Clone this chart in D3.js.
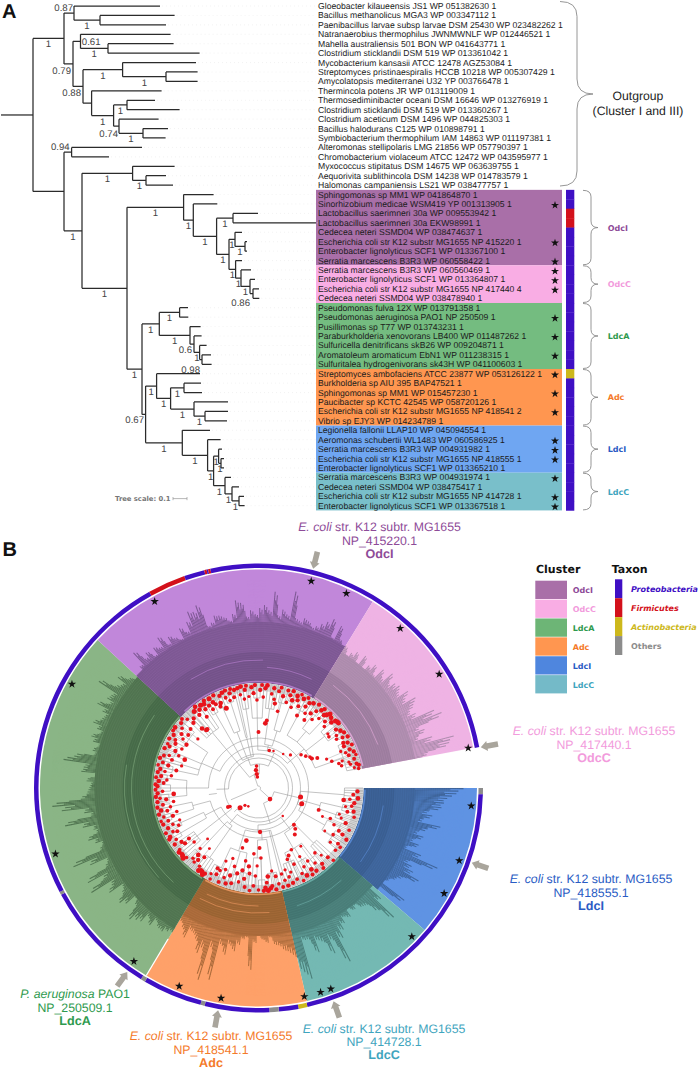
<!DOCTYPE html>
<html><head><meta charset="utf-8">
<script src="https://cdnjs.cloudflare.com/ajax/libs/d3/7.8.5/d3.min.js"></script>
<style>html,body{margin:0;padding:0;background:#fff}svg{display:block;text-rendering:geometricPrecision}</style>
</head><body><svg id="c" width="700" height="1069"></svg>
<script>
// ---------- PANEL A DATA ----------
const leafNames = [
"Gloeobacter kilaueensis JS1 WP 051382630 1","Bacillus methanolicus MGA3 WP 003347112 1","Paenibacillus larvae subsp larvae DSM 25430 WP 023482262 1","Natranaerobius thermophilus JWNMWNLF WP 012446521 1","Mahella australiensis 501 BON WP 041643771 1","Clostridium sticklandii DSM 519 WP 013361042 1","Mycobacterium kansasii ATCC 12478 AGZ53084 1","Streptomyces pristinaespiralis HCCB 10218 WP 005307429 1","Amycolatopsis mediterranei U32 YP 003766478 1","Thermincola potens JR WP 013119009 1","Thermosediminibacter oceani DSM 16646 WP 013276919 1","Clostridium sticklandii DSM 519 WP 013360267 1","Clostridium aceticum DSM 1496 WP 044825303 1","Bacillus halodurans C125 WP 010898791 1","Symbiobacterium thermophilum IAM 14863 WP 011197381 1","Alteromonas stellipolaris LMG 21856 WP 057790397 1","Chromobacterium violaceum ATCC 12472 WP 043595977 1","Myxococcus stipitatus DSM 14675 WP 063639755 1","Aequorivita sublithincola DSM 14238 WP 014783579 1","Halomonas campaniensis LS21 WP 038477757 1",
"Sphingomonas sp MM1 WP 041864870 1","Sinorhizobium medicae WSM419 YP 001313905 1","Lactobacillus saerimneri 30a WP 009553942 1","Lactobacillus saerimneri 30a EKW98991 1","Cedecea neteri SSMD04 WP 038474637 1","Escherichia coli str K12 substr MG1655 NP 415220 1","Enterobacter lignolyticus SCF1 WP 013367100 1","Serratia marcescens B3R3 WP 060558422 1",
"Serratia marcescens B3R3 WP 060560469 1","Enterobacter lignolyticus SCF1 WP 013364807 1","Escherichia coli str K12 substr MG1655 NP 417440 4","Cedecea neteri SSMD04 WP 038478940 1",
"Pseudomonas fulva 12X WP 013791358 1","Pseudomonas aeruginosa PAO1 NP 250509 1","Pusillimonas sp T77 WP 013743231 1","Paraburkholderia xenovorans LB400 WP 011487262 1","Sulfuricella denitrificans skB26 WP 009204871 1","Aromatoleum aromaticum EbN1 WP 011238315 1","Sulfuritalea hydrogenivorans sk43H WP 041100603 1",
"Streptomyces ambofaciens ATCC 23877 WP 053126122 1","Burkholderia sp AIU 395 BAP47521 1","Sphingomonas sp MM1 WP 015457230 1","Paucibacter sp KCTC 42545 WP 058720126 1","Escherichia coli str K12 substr MG1655 NP 418541 2","Vibrio sp EJY3 WP 014234789 1",
"Legionella fallonii LLAP10 WP 045094554 1","Aeromonas schubertii WL1483 WP 060586925 1","Serratia marcescens B3R3 WP 004931982 1","Escherichia coli str K12 substr MG1655 NP 418555 1","Enterobacter lignolyticus SCF1 WP 013365210 1",
"Serratia marcescens B3R3 WP 004931974 1","Cedecea neteri SSMD04 WP 038475417 1","Escherichia coli str K12 substr MG1655 NP 414728 1","Enterobacter lignolyticus SCF1 WP 013367518 1"];
const clusterNames = ["OdcI","OdcC","LdcA","Adc","LdcI","LdcC"];
const clusterSizes = [8,4,7,6,5,4];
const rowColors    = ["#A96FA8","#F9ADE4","#74BC80","#FF9650","#6FA6F2","#79BFCA"];
const swatchColors = ["#A96FA8","#F9ADE4","#6DB576","#FF9650","#4F86DE","#74BAC8"];
const nameColors   = ["#8E4B98","#F29BDC","#2E9A4E","#F47A2A","#2A5CC4","#3FA5BE"];
const starredLeaves = [21,25,27,28,29,30,33,35,37,39,41,43,46,47,48,50,52,53];
const firmicuteLeaves = [22,23];
const actinoLeaves = [39];
const taxonNames  = ["Proteobacteria","Firmicutes","Actinobacteria","Others"];
const taxonColors = ["#3F0FC4","#D3111B","#CDB81C","#8C8C8C"];
// node = [depth, support, ...children]; a bare number is a tip at that depth (scale 0.1 = 14 depth units)
const treeA = [33,null,
 [64,"1",
  [74,"0.87",160,[100,"1",174.6,166]],
  [73,"0.79",
   [80.5,"0.61",170.6,[108,"1",173.6,199.6]],
   [83,"0.88",
    [122.6,"1",196,[166,"1",197.6,197.6]],
    [91.6,null,161.6,[113.6,"1",[127,"1",155,179.6],[119,"0.74",158.6,[143,"1",168,165.6]]]]]]],
 [64,null,
  [71.6,"0.94",142,109],
  [82,"1",
   [132.6,"1",174.6,[146,"1",166,173]],
   [127,"1",
    [183.6,"1",213.6,[193.3,"1",217.3,
      [216.6,"1",
       [233,"1",258,316],
       [229,"1",
        [235,"1",242,[245,"1",247,247]],
        [235.6,"1",242,[241,"1",251,[250,"1",255,[253,"0.86",259,259.3]]]]]]]],
    [142,"1",
     [159.3,"1",
      [179.6,"1",188,188.3],
      [190,"1",200.6,[194,"0.6",201.6,[199.6,"1",206.6,[202,"0.98",211,211.6]]]]],
     [145.6,"0.67",
      [156.6,"1",200,[170.6,"1",[184,"1",201,202],[194,"1",228,[205,"1",228,227]]]],
      [182.3,"1",210,[207.6,"1",220.6,
        [213.6,"1",
         [218.6,"1",222,[221,"1",224,224]],
         [225,"1",231,[232,"1",239,[239,"1",244,244.6]]]]]]]]]]]];
const supportNudge = {"0.87":[-1,-2],"0.61":[20,4],"0.79":[-2,10],"0.88":[-2,10],"0.74":[-1,11],"0.94":[-2,-2],"0.86":[-3,12],"0.6":[-2,9],"0.98":[-2,13],"0.67":[-1.6,9]};

// ---------- PANEL B DATA (angles: degrees clockwise from east) ----------
const wedgeFill = {OdcI:"#C187DA",OdcC:"#EFB3E4",LdcA:"#8AB586",Adc:"#FEA169",LdcI:"#5F93E3",LdcC:"#74B9B3"};
const bodyFill  = {OdcI:"#7A5690",OdcC:"#A98AAA",LdcA:"#4E714E",Adc:"#A36637",LdcI:"#3D6296",LdcC:"#487B76"};
const bandFill  = {OdcI:"#6E5085",OdcC:"#957596",LdcA:"#416545",Adc:"#93602F",LdcI:"#385C8E",LdcC:"#3F706C"};
// outer reach of the leaf labels, read around each sector
const reachOdcI = [158,162,170,184,172,176,168,175,172,181,170,176,172,168,178,172,181,190,188,193,170,172,178,177,174,170,176,189,186,172,178,174,180,183,178,197,174,180,176,200,174,172,176,174,170,172,176,180,185,168,182,170,160];
const reachOdcC = [167,160,164,168,156,170,158,165,170,162,172,166,176,168,172,174,170,178,172,181,176,170,174,192,198,172,176,168,181,202,196,173];
const reachLdcI = [205,198,189,186,184,172,176,168,186,174,166,172,164,170,160,176,196,168,172,176,185,170,165,160,155,184,150];
const reachLdcC = [150,165,187,172,160,158,152,155,150,158,155,160,165,172,196,170,182,168,164,175,160,159,198,190];
const reachAdc  = [173,168,165,160,158,150,155,152,147,155,182,150,152,158,165,160,170,162,198,168,201,172,176,165,160,158,167,160,155];
const reachLdcA = [168,170,173,172,168,175,170,178,180,184,170,165,176,180,172,168,182,176,197,180,195,172,168,185,201,170,166,172,178,168,170,180,197,170,176,198,207,178,172,170,168,172,164,178,176,197,187,168,170,166,172,175,168,172,178,172,170,174,182,172,176,174,192,176,172,179,170,165];
const reachByCluster = {OdcI:reachOdcI,OdcC:reachOdcC,LdcA:reachLdcA,Adc:reachAdc,LdcI:reachLdcI,LdcC:reachLdcC};
// shares of a reach that the neighbouring labels take up
const labelShares = [1,.74,.9,.62];
// pale arcs inside the label band: [from, to, radius]
const paleArcs = [[226,300,106.5],[302,348,106.5],[122,222,106.5],[78,120,106.5],[41,77,106.5],[1,40,106.5],[238,272,128],[274,296,121],[132,215,127],[138,190,134],[85,118,125],[90,116,118],[48,72,124],[8,36,126],[306,340,127]];
const ringRuns = [[0,1.6,3],[1.6,77.4,0],[77.4,79.7,2],[79.7,84.8,0],[84.8,87.2,3],[87.2,103.9,0],[103.9,105,3],[105,120.4,0],[120.4,121.6,3],[121.6,151.6,0],[151.6,152.4,3],[152.4,240.9,0],[240.9,250.7,1],[250.7,256,0],[256,256.6,1],[256.6,257,0],[257,257.6,1],[257.6,349.5,0]];
const starAngles = [284.3,294.3,240.9,311.6,327.8,349.2,209.1,162,4.8,19.9,29.6,44.1,70.2,73.1,77.6,100.1,111.8,125.7];
const arrowAngles = [284,349.6,19.3,70.6,100.3,125.5];
// circular tree: node = [radius, ...children]; a bare number is a tip at that angle
const treeB = [2,
 [14,
  [72,224,226.5,228.5,231,234,236.5],
  [24,
   [32,[86,238,240,242],[60,[88,244,246,248],[90,250,252,254]],[52,256,257.5],[80,259,261,263]],
   [38,[70,265,[90,267,269,271],273],
    [44,[80,275,277,279,281],[60,[88,283,285,287],[92,289,291,293]]],
    [60,[88,295,298,300,302],[74,[92,304,306,309],[94,311,313,316]],[84,318,321,[94,323,326,329]],[90,332,335,338,341,344,347,349]]]]],
 [30,
  [42,
   [62,[88,190,192,194],[80,196,198],[90,200,203,206],[85,209,212,215,218,221]],
   [50,[72,[90,172,174,176],[88,178,180,182],[92,184,186,188]],[68,[92,160,162,164],[90,166,168,170]]],
   [60,[90,148,150,152],[85,154,156,158]]],
  [34,[78,138,140,142,144,146],[46,[85,122,124,126,128],[88,130,132,134,136]]]],
 [16,
  [42,[86,0,1.5,3,5,7,9],[46,[64,[86,11,13,15],[82,17,19,21]],[76,[90,23,25,27],[88,29,31,33,35,38]]]],
  [37,
   [52,[78,42,44,46,48],[70,[88,50,52,54],[84,56,58,60,62],[80,64,66,68,70,72]]],
   [44,74,76,[52,[86,78,80,82,84],[70,[92,86,88,90],[88,92,94,96]]],[66,[86,98,100,102],[90,104,106,108],[88,110,112,114,116,118,120]]]]]];
// support dots on the circular tree: [angle, radius, size]
const redDots = [
[2,99,2.4],[4,95,2.2],[6,100,2.6],[7,92,2],[9,97,2.4],[8,86,2.6],[11,95,2],[12,89,1.8],[14,98,2.4],[15,92,2.2],[17,100,2],[18,85,1.6],[20,64,2.2],[20,88,1.8],[22,94,2.4],[23,78,2],[24,70,1.6],[25,100,2],[26,84,2],[28,91,2.2],[29,96,2.4],[30.5,102,2.4],[32,88,2],[33,79,1.6],[35,97,2.2],[36,101,2],[37,90,1.8],[39,99,2],[12,43,2.8],[20,46,2.8],[49,37,1.4],[44,16,2.6],
[44,104,2],[45,98,2.2],[46,51,2.2],[47,92,1.6],[48,55,2.2],[49,86,2],[50,99,2.4],[51,103,2.2],[52,59,2.2],[53,94,2],[54,72,1.6],[55,101,2.4],[56,88,2],[57,97,2.6],[58,102,2.2],[59,80,1.8],[60,91,2],[61,100,2.6],[62,70,2],[63,96,2],[64,103,2],[65,84,2],[66,74,2.2],[67,99,2],[68,77,2],[69,90,1.8],[70,101,2.4],[71,94,2],[72,86,1.8],[73,102,2.4],[74,96,2],[75,89,2],[76,102,2.2],
[78,98,2],[79,90,2.2],[80,103,2.4],[81,84,1.8],[82,99,2.4],[83,101,2.6],[84,89,2.6],[84.5,103,2.8],[85,95,2.2],[86,100,2.6],[87,103,2.4],[88,44,2.4],[88,70,2],[89,60,2.2],[90,102,2],[91,78,1.8],[92,88,2],[93,98,2.2],[94,66,2],[95,103,2],[96,86,2.2],[97,79,2.4],[98,100,2.2],[99,92,2.4],[100,74,2],[101,84,2.4],[102,96,2],[103,54,2.6],[104,88,2.4],[105,62,2],[106,99,2.2],[107,82,2],[108,92,2.4],[109,101,2.4],[110,75,1.8],[111,96,2],[112,88,2],[113,102,2.2],[114,80,1.8],[115,91,2],[116,96,2.2],[117,90,2.2],[118,103,2],[119,98,1.8],
[122,101,2.4],[123,103,2.8],[124,101,2.8],[125,100,2.2],[126,102,2.8],[127,98,2],[128,88,2.2],[129,78,1.6],[130,94,2.4],[131,98,2],[132,90,2.6],[133,96,2],[134,84,1.8],[135,72,1.6],[136,100,2],[137,103,2.8],[138,102,2.8],[139,101,2.6],[140,84,2],[141,102,2.8],[142,100,2],[143,92,2.4],[144,86,2.2],[145,94,2.4],[147,34,2],[148,36,2.2],[133,27,2.8],[128,22,1.8],[119,21,1.4],[146,101,2.4],[148,97,2],[150,103,2.4],[151,101,2.6],[152,92,2.2],[153,96,2],[154,103,2.2],[155,88,2],[156,99,2.4],[157,93,2],[158,85,1.8],[159,102,2.4],
[160,96,2.2],[161,103,2],[162,90,2.4],[163,99,2],[164,85,2],[165,103,2.4],[166,94,2.2],[167,100,2.6],[168,90,2],[169,103,2.4],[170,97,2.2],[171,86,2],[172,102,2.4],[173,93,2.4],[174,99,2],[175,103,2.4],[176,85,2.6],[177,101,2.4],[178,96,2],[179,103,2.2],[181,101,2.4],[182,103,2.4],[183,95,2.2],[184,100,2.6],[185,92,2],[186,103,2.2],[187,98,2.4],[188,88,2],[189,102,2.4],[190,95,2],[191,100,2.4],[192,84,2.2],[193,103,2],[194,93,2.4],[195,99,2.2],[196,80,1.8],[197,103,2.4],[198,91,2.2],[199,100,2.2],[200,95,2],[201,79,2.6],[202,86,2],[203,102,2.4],[204,91,2.4],[205,98,2.2],[206,101,2],[207,86,2],[208,94,2.4],[209,102,2.4],[210,96,2.2],[211,84,2.4],[212,100,2.4],[213,90,2],[214,103,2.2],[215,94,2.4],[216,103,2.6],[217,88,2.2],[218,97,2],[219,78,1.8],[220,101,2.4],[221,90,2.2],[222,103,2.2],
[224,99,2],[225,92,2.4],[226.5,82,2.6],[227,95,2.4],[228,78,2.6],[229,78,2.4],[230,100,2.8],[231,94,2.4],[232,103,2.6],[233,98,2.6],[234,88,2.2],[235,101,2.8],[236,95,2.4],[237,100,2.6],[238,103,2.4],[239,96,2.4],[240,91,2.2],[241,102,2.8],[242,97,2.6],[243,94,2.2],[244,103,2.4],[245,90,2.2],[246,93,2.6],[247,100,2.4],[248,86,2.8],[249,102,2.6],[250,96,2.2],[251,103,2.4],[252,92,2],[253,99,2.4],[254,103,2.2],[255,94,2.2],[256,101,2.4],[258,102,2.4],[259,95,2],[260,103,2.6],[261,90,2],[262,99,2.4],[263,103,2.2],[264,92,1.8],[262,18,2.4],[263,14,2.4],[264,11,2],[265,22,2],
[266,101,2.4],[267,95,2.4],[268,103,2.4],[269,88,2],[270,56,2.2],[271,98,2.4],[272,103,2.2],[273,91,2],[274,100,2.4],[275,103,2.6],[276,65,2.6],[277,68,2.2],[278,95,2],[279,101,2.4],[280,90,2],[281,86,2.4],[282,99,2.2],[283,103,2.2],[284,79,2],[285,95,2.4],[286,39,2],[287,102,2.2],[288,90,2],[289,98,2.4],[290,103,2.4],[291,94,2.6],[292,87,2],[293,100,2.6],[294,96,2.4],[295,103,2],[296,91,2.2],[297,100,2.6],[298,82,2.2],[299,103,2.2],[300,94,2.4],[301,99,2.4],[302,88,2],[303,101,2.6],[304,82,2.2],[305,91,2.4],[306,103,2.4],[307,96,2.2],[308,87,2],[309,100,2.6],[310,103,2.4],[311,92,2],[312,98,2.6],[313,100,2.8],[314,103,2.8],[315,94,2.2],[316,101,2.6],[317,90,2],[318,98,2.6],[319,102,2.8],[320,103,2.6],[321,103,2.6],[322,88,1.8],[323,97,2.4],[324,87,2],[325,100,2.6],[326,94,2],[327,102,2.4],[328,92,2],[329,98,2.2],[330,103,2.4],[331,61,2],[332,96,2.4],[333,100,2.4],[334,95,2.4],[335,103,2.2],[336,90,1.8],[337,99,2.4],[338,94,2],[339,102,2.4],[340,96,2.2],[341,103,2],[342,88,1.8],[343,100,2.2],[344,94,1.8],[345,86,2],[345.5,95,2],[346,101,2.2],[347,103,2.4],[348,98,1.8],[349,102,2],
[314,46,1.8],[306,42,1.4],[322,54,2],[326,57,2],[329,60,2],[333,66,2.2],[337,74,1.8],[340,78,2],[343,84,2],[331,61,2.2],[292,40,1.4]];
// callouts
const calloutSpecies = ["E. coli","E. coli","E. coli","E. coli","P. aeruginosa","E. coli"];
const calloutStrains = [" str. K12 subtr. MG1655"," str. K12 subtr. MG1655"," str. K12 subtr. MG1655"," str. K12 subtr. MG1655"," PAO1"," str. K12 subtr. MG1655"];
const calloutAccessions = ["NP_415220.1","NP_417440.1","NP_418555.1","NP_414728.1","NP_250509.1","NP_418541.1"];
const calloutClusters = ["OdcI","OdcC","LdcI","LdcC","LdcA","Adc"];

// ---------- DRAW ----------
const svg = d3.select("#c");
const SANS = "'Liberation Sans',Arial,sans-serif", DJ = "'DejaVu Sans',sans-serif";
const gA = svg.append("g"), gB = svg.append("g");

// Panel A scales
const rowY = d3.scalePoint().domain(d3.range(leafNames.length)).range([6,505.7]);
const rowH = rowY.step();
const depthX = d3.scaleLinear().domain([0,330]).range([0,330]);
// bands
let start = 20; const spans = clusterSizes.map(n=>{const s=[start,start+n-1];start+=n;return s;});
gA.selectAll("rect.band").data(clusterNames).join("rect")
  .attr("x",316).attr("width",246)
  .attr("y",(d,i)=>rowY(spans[i][0])-rowH/2).attr("height",(d,i)=>rowY(spans[i][1])-rowY(spans[i][0])+rowH)
  .attr("fill",(d,i)=>rowColors[i]);
// taxon strip
const leafTaxon = i => firmicuteLeaves.includes(i)?1:actinoLeaves.includes(i)?2:0;
gA.selectAll("rect.tax").data(d3.range(20,leafNames.length)).join("rect")
  .attr("x",566).attr("width",8.3).attr("y",i=>rowY(i)-rowH/2).attr("height",rowH+.3)
  .attr("fill",i=>taxonColors[leafTaxon(i)]);
// tree
let leafIdx = 0; const treeG = gA.append("g").attr("fill","none").attr("stroke","#2b2b2b").attr("stroke-width",1.25);
const supG = gA.append("g").attr("font-family",SANS).attr("font-size",9.6).attr("fill","#444");
function layoutA(n){
  if(typeof n==="number"){const i=leafIdx++;return {x:depthX(n),y:rowY(i),leaf:i};}
  const kids=n.slice(2).map(layoutA);
  return {x:depthX(n[0]),s:n[1],kids,y:(kids[0].y+kids[kids.length-1].y)/2};
}
const rootA = layoutA(treeA);
function drawA(n){
  if(!n.kids){
    gA.append("line").attr("x1",n.x+2).attr("x2",316).attr("y1",n.y).attr("y2",n.y).attr("stroke","#e6e6e6").attr("stroke-width",.5).attr("stroke-dasharray","1 3");
    return;
  }
  const p=d3.path();p.moveTo(n.x,n.kids[0].y);p.lineTo(n.x,n.kids[n.kids.length-1].y);
  n.kids.forEach(k=>{p.moveTo(n.x,k.y);p.lineTo(k.x,k.y);
    if(k.s){
      if(k.s==="1") supG.append("text").attr("x",(n.x+k.x)/2).attr("y",k.y+9).attr("text-anchor","middle").text("1");
      else{const o=supportNudge[k.s];supG.append("text").attr("x",k.x+o[0]).attr("y",k.y+o[1]).attr("text-anchor","end").text(k.s);}
    }
    drawA(k);});
  treeG.append("path").attr("d",p.toString());
}
drawA(rootA);
treeG.append("line").attr("x1",1).attr("x2",rootA.x).attr("y1",rootA.y).attr("y2",rootA.y);
// leaf labels
gA.append("g").attr("font-family",SANS).attr("font-size",8.65).attr("fill","#1c1c1c")
 .selectAll("text").data(leafNames).join("text").attr("x",318).attr("y",(d,i)=>rowY(i)+3).text(d=>d);
// stars A
const star = d3.symbol().type(d3.symbolStar);
gA.selectAll("path.st").data(starredLeaves).join("path").attr("d",star.size(20)())
  .attr("transform",i=>`translate(555,${rowY(i)+1.2})`).attr("fill","#111");
// braces
function brace(x0,x1,x2,y0,y1,ym,r){const p=d3.path();p.moveTo(x0,y0);p.quadraticCurveTo(x1,y0,x1,y0+r);p.lineTo(x1,ym-r);p.quadraticCurveTo(x1,ym,x2,ym);p.quadraticCurveTo(x1,ym,x1,ym+r);p.lineTo(x1,y1-r);p.quadraticCurveTo(x1,y1,x0,y1);return p.toString();}
const braceG=gA.append("g").attr("fill","none").attr("stroke","#8a8a8a").attr("stroke-width",.9);
braceG.append("path").attr("d",brace(560,577,593,1.5,186,94,15));
clusterNames.forEach((c,i)=>{
  const y0=rowY(spans[i][0])-rowH/2+.5,y1=rowY(spans[i][1])+rowH/2-.5,ym=(y0+y1)/2;
  braceG.append("path").attr("d",brace(583,591,598,y0,y1,ym,6.5));
  gA.append("text").attr("x",607.7).attr("y",ym+3).attr("font-family",DJ).attr("font-weight","bold").attr("font-size",8).attr("fill",nameColors[i]).text(c);
});
gA.append("text").attr("x",638).attr("y",100).attr("text-anchor","middle").attr("font-family",SANS).attr("font-size",12.2).attr("fill","#222").text("Outgroup");
gA.append("text").attr("x",638).attr("y",115).attr("text-anchor","middle").attr("font-family",SANS).attr("font-size",12.2).attr("fill","#222").text("(Cluster I and III)");
gA.append("text").attr("x",2).attr("y",17.5).attr("font-family",SANS).attr("font-weight","bold").attr("font-size",20).attr("fill","#111").text("A");
// tree scale
gA.append("text").attr("x",115).attr("y",500.5).attr("font-family",DJ).attr("font-weight","bold").attr("font-size",6.8).attr("fill","#777").text("Tree scale: 0.1");
const sb=d3.path();const sbx=173;sb.moveTo(sbx,498.6);sb.lineTo(sbx+depthX(14),498.6);sb.moveTo(sbx,497);sb.lineTo(sbx,500.2);sb.moveTo(sbx+depthX(14),497);sb.lineTo(sbx+depthX(14),500.2);
gA.append("path").attr("d",sb.toString()).attr("stroke","#999").attr("stroke-width",.7).attr("fill","none");

// Panel B
const cx=258.5, cy=788, RIM=105, WEDGE=218.5, RING0=220, RING1=224.5;
const ang=d3.scaleLinear().domain([0,360]).range([0,2*Math.PI]);
const arc=d3.arc();
const c0=gB.append("g").attr("transform",`translate(${cx},${cy})`);
const sector=(a0,a1,r0,r1)=>arc({startAngle:ang(a0+90),endAngle:ang(a1+90),innerRadius:r0,outerRadius:r1});
const wedges={LdcI:[0,40.5],LdcC:[40.5,77.2],Adc:[77.2,120.9],LdcA:[120.9,222.6],OdcI:[222.6,301.5],OdcC:[301.5,349.4]};
Object.entries(wedges).forEach(([c,[a0,a1]])=>{
  c0.append("path").attr("d",sector(a0,a1,RIM,WEDGE)).attr("fill",wedgeFill[c]);
  const reach=reachByCluster[c], step=(a1-a0)/reach.length, base=d3.quantile(reach.slice().sort(d3.ascending),.12);
  c0.append("path").attr("d",sector(a0,a1,RIM,base-4)).attr("fill",bodyFill[c]);
  // each reach reading gives a small bundle of thin label strokes
  const fine=[];reach.forEach((d,i)=>labelShares.forEach((k,j)=>fine.push({t:a0+(i+j/labelShares.length)*step,e:base-6+(d-base+6)*k})));
  c0.selectAll(null).data(fine).join("path")
    .attr("d",d=>sector(d.t,d.t+step/labelShares.length*.85,base-6,d.e)).attr("fill",bodyFill[c]);
  c0.append("path").attr("d",sector(a0,a1,RIM,136)).attr("fill",bandFill[c]).attr("opacity",.6);
  // grain of the tiny labels: rings and spokes in the sector's own colour
  const grain=d3.path();
  d3.range(110,208,2.2).forEach(r=>{grain.moveTo(r*Math.cos(ang(a0)),r*Math.sin(ang(a0)));grain.arc(0,0,r,ang(a0),ang(a1));});
  c0.append("path").attr("d",grain.toString()).attr("fill","none").attr("stroke",wedgeFill[c]).attr("stroke-width",.4).attr("opacity",.22);
  const sp=d3.path();
  d3.range(a0,a1,.42).forEach(t=>{sp.moveTo(136*Math.cos(ang(t)),136*Math.sin(ang(t)));sp.lineTo(208*Math.cos(ang(t)),208*Math.sin(ang(t)));});
  c0.append("path").attr("d",sp.toString()).attr("stroke",wedgeFill[c]).attr("stroke-width",.3).attr("opacity",.25);
});
// pale arcs
paleArcs.forEach(([a0,a1,r])=>{const p=d3.path();p.arc(0,0,r,ang(a0),ang(a1));
  const cl=Object.entries(wedges).find(([c,[x,y]])=>(a0+a1)/2>=x&&(a0+a1)/2<y)[0];
  c0.append("path").attr("d",p.toString()).attr("fill","none").attr("stroke",wedgeFill[cl]).attr("stroke-width",r<110?1.6:.7).attr("opacity",.75);});
// white seam Adc/LdcA
const seam=d3.path();seam.moveTo(176*Math.cos(ang(120.9)),176*Math.sin(ang(120.9)));seam.lineTo(WEDGE*Math.cos(ang(120.9)),WEDGE*Math.sin(ang(120.9)));
c0.append("path").attr("d",seam.toString()).attr("stroke","#fff").attr("stroke-width",1.3);
// disc and grey rim
c0.append("circle").attr("r",RIM).attr("fill","#fff");
c0.append("path").attr("d",sector(0,349.4,97,RIM)).attr("fill","#d8d8d8");
// circular tree
const brG=c0.append("g").attr("fill","none").attr("stroke","#9b9b9b").attr("stroke-width",.6);
function layoutB(n){
  if(typeof n==="number")return {a:n,r:RIM-.5};
  const kids=n.slice(1).map(layoutB);
  return {r:n[0],kids,a:(kids[0].a+kids[kids.length-1].a)/2};
}
function drawB(n){
  if(!n.kids)return;
  const p=d3.path();const a0=ang(n.kids[0].a),a1=ang(n.kids[n.kids.length-1].a);
  p.moveTo(n.r*Math.cos(a0),n.r*Math.sin(a0));p.arc(0,0,n.r,a0,a1);
  n.kids.forEach(k=>{const t=ang(k.a);p.moveTo(n.r*Math.cos(t),n.r*Math.sin(t));p.lineTo(k.r*Math.cos(t),k.r*Math.sin(t));drawB(k);});
  brG.append("path").attr("d",p.toString());
}
drawB(layoutB(treeB));
// tip spokes from the dots
const spk=d3.path();redDots.forEach(([a,r])=>{if(r<70)return;const t=ang(a);spk.moveTo(r*Math.cos(t),r*Math.sin(t));spk.lineTo(RIM*Math.cos(t),RIM*Math.sin(t));});
brG.append("path").attr("d",spk.toString()).attr("stroke","#b0b0b0").attr("stroke-width",.55);
c0.selectAll("circle.dot").data(redDots).join("circle")
  .attr("cx",d=>d[1]*Math.cos(ang(d[0]))).attr("cy",d=>d[1]*Math.sin(ang(d[0]))).attr("r",d=>d[2]*.9).attr("fill","#E8141B");
// taxon ring
c0.selectAll("path.ring").data(ringRuns).join("path").attr("d",d=>sector(d[0],d[1],RING0,RING1)).attr("fill",d=>taxonColors[d[2]]);
// stars
c0.selectAll("path.st").data(starAngles).join("path").attr("d",star.size(22)())
  .attr("transform",a=>`translate(${213.5*Math.cos(ang(a))},${213.5*Math.sin(ang(a))})`).attr("fill","#111");
// arrows
c0.selectAll("path.arr").data(arrowAngles).join("path")
  .attr("d","M0,0L6.5,-5L6.5,-2.8L17.5,-2.8L17.5,2.8L6.5,2.8L6.5,5Z")
  .attr("transform",a=>`rotate(${a}) translate(226,0)`).attr("fill","#A9A59C");
// callouts
const calloutAnchor=[[379.5,531],[594,735],[591,883],[384,1032.7],[75,998],[211,1040]];
calloutClusters.forEach((c,i)=>{
  const col=nameColors[clusterNames.indexOf(c)],[x,y]=calloutAnchor[i];
  const g=gB.append("g").attr("font-family",SANS).attr("font-size",12.3).attr("fill",col).attr("text-anchor","middle");
  const t=g.append("text").attr("x",x).attr("y",y);
  t.append("tspan").attr("font-style","italic").text(calloutSpecies[i]);
  t.append("tspan").text(calloutStrains[i]);
  g.append("text").attr("x",x).attr("y",y+13.5).text(calloutAccessions[i]);
  g.append("text").attr("x",x).attr("y",y+26.6).attr("font-weight","bold").attr("font-size",12.6).text(c);
});
gB.append("text").attr("x",2.5).attr("y",556).attr("font-family",SANS).attr("font-weight","bold").attr("font-size",20).attr("fill","#111").text("B");
// legend
const leg=gB.append("g").attr("font-family",DJ);
leg.append("text").attr("x",536).attr("y",572.7).attr("font-weight","bold").attr("font-size",11).attr("fill","#111").text("Cluster");
leg.append("text").attr("x",611.7).attr("y",572.7).attr("font-weight","bold").attr("font-size",11).attr("fill","#111").text("Taxon");
const legY=d3.scaleBand().domain(clusterNames).range([580.7,694]);
leg.selectAll("rect.c").data(clusterNames).join("rect").attr("x",535.3).attr("width",31.7)
  .attr("y",d=>legY(d)).attr("height",legY.bandwidth()-.6).attr("fill",(d,i)=>swatchColors[i]);
leg.selectAll("text.c").data(clusterNames).join("text").attr("x",572.7).attr("y",d=>legY(d)+legY.bandwidth()/2+3)
  .attr("font-weight","bold").attr("font-size",8).attr("fill",(d,i)=>nameColors[i]).text(d=>d);
const taxY=d3.scaleBand().domain(taxonNames).range([579.3,655]);
leg.selectAll("rect.t").data(taxonNames).join("rect").attr("x",615).attr("width",7.3)
  .attr("y",d=>taxY(d)).attr("height",taxY.bandwidth()).attr("fill",(d,i)=>taxonColors[i]);
leg.selectAll("text.t").data(taxonNames).join("text").attr("x",631).attr("y",d=>taxY(d)+taxY.bandwidth()/2+3)
  .attr("font-weight","bold").attr("font-size",8).attr("font-style",d=>d==="Others"?"normal":"italic")
  .attr("fill",(d,i)=>taxonColors[i]).text(d=>d);
</script></body></html>
